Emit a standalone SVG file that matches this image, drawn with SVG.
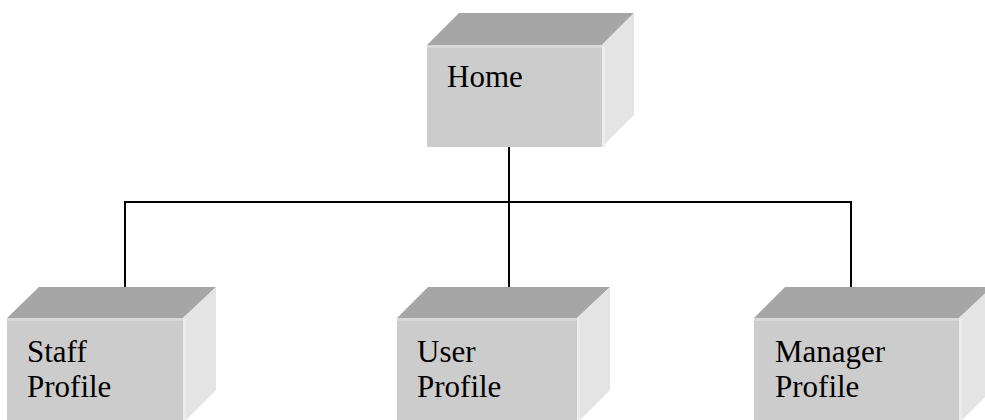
<svg xmlns="http://www.w3.org/2000/svg" width="985" height="420" viewBox="0 0 985 420">
  <defs>
    <style>
      .top { fill: #a6a6a6; }
      .front { fill: #cccccc; }
      .side { fill: #e4e4e4; }
      .edge { fill: none; stroke: #d8d8d8; stroke-width: 3; }
      .sedge { fill: none; stroke: #ececec; stroke-width: 3; }
      .label { font-family: "Liberation Serif", "Times New Roman", serif; font-size: 31px; fill: #000; }
      .wire { fill: none; stroke: #000; stroke-width: 2; }
    </style>
  </defs>
  <rect width="985" height="420" fill="#ffffff"/>

  <!-- connectors -->
  <g id="connectors">
    <path class="wire" d="M509 147 V287"/>
    <path class="wire" d="M125 287 V202 H851 V287"/>
  </g>

  <!-- Home -->
  <g id="home">
    <polygon class="top" points="427,45 459,13 634,13 602,45"/>
    <polygon class="side" points="602,45 634,13 634,115 602,147"/>
    <rect class="front" x="427" y="45" width="175" height="102"/>
    <path class="edge" d="M427 46.5 H602"/>
    <path class="sedge" d="M603.5 46 V147"/>
    <text class="label" x="447" y="87">Home</text>
  </g>

  <!-- Staff Profile -->
  <g id="staff">
    <polygon class="top" points="7,318 39,287 216,287 183,318"/>
    <polygon class="side" points="183,318 216,287 216,390 183,423"/>
    <rect class="front" x="7" y="318" width="176" height="110"/>
    <path class="edge" d="M7 319.5 H183"/>
    <path class="sedge" d="M184.5 319 V428"/>
    <text class="label" x="27" y="362">Staff</text>
    <text class="label" x="27" y="397">Profile</text>
  </g>

  <!-- User Profile -->
  <g id="user">
    <polygon class="top" points="397,318 428,287 610,287 577,318"/>
    <polygon class="side" points="577,318 610,287 610,390 577,423"/>
    <rect class="front" x="397" y="318" width="180" height="110"/>
    <path class="edge" d="M397 319.5 H577"/>
    <path class="sedge" d="M578.5 319 V428"/>
    <text class="label" x="417" y="362">User</text>
    <text class="label" x="417" y="397">Profile</text>
  </g>

  <!-- Manager Profile -->
  <g id="manager">
    <polygon class="top" points="754,318 785,287 992,287 959,318"/>
    <polygon class="side" points="959,318 992,287 992,390 959,423"/>
    <rect class="front" x="754" y="318" width="205" height="110"/>
    <path class="edge" d="M754 319.5 H959"/>
    <path class="sedge" d="M960.5 319 V428"/>
    <text class="label" x="775" y="362">Manager</text>
    <text class="label" x="775" y="397">Profile</text>
  </g>
</svg>
